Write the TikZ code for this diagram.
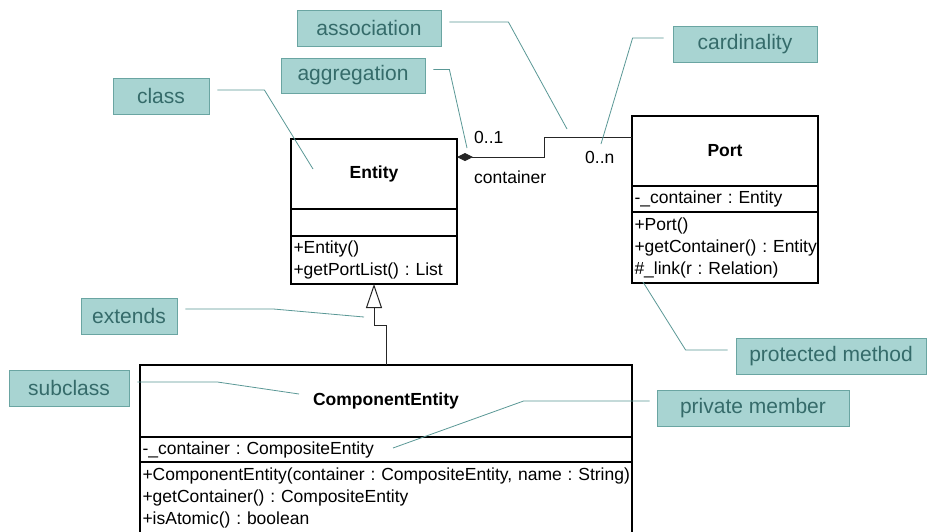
\documentclass[tikz,border=0pt]{standalone}
\usepackage{fontspec}
\setmainfont{Liberation Sans}
\usetikzlibrary{arrows.meta}
\definecolor{notefill}{HTML}{A8D4D2}
\definecolor{noteline}{HTML}{6AA5A2}
\definecolor{notetext}{HTML}{356B6A}
\definecolor{leadline}{HTML}{5A9896}
\tikzset{
  note/.style={draw=noteline, fill=notefill, text=notetext, line width=0.8pt,
    font=\fontsize{21}{25}\selectfont, inner sep=0pt, minimum height=36pt},
  lead/.style={draw=leadline, line width=0.8pt},
  cls/.style={draw=black, line width=1.2pt, anchor=north west, inner ysep=0pt,
    inner xsep=2.5pt, outer sep=0pt, font=\fontsize{17.5}{22}\selectfont,
    execute at begin node=\frenchspacing},
  clsname/.style={cls, font=\fontsize{17.5}{22}\selectfont\bfseries, align=center},
  clsbody/.style={cls, align=left},
  link/.style={draw=black!85, line width=1pt},
  mult/.style={font=\fontsize{17.5}{22}\selectfont, anchor=west, inner sep=0pt}
}
\begin{document}
\begin{tikzpicture}[x=1pt,y=-1pt]
\useasboundingbox (0,0) rectangle (927,531);
\clip (0,0) rectangle (927,531);
\fill[white] (0,0) rectangle (927,531);

% class Entity
\node[clsname, minimum width=166pt, minimum height=70pt] (entN) at (291,139) {Entity};
\node[clsbody, text width=161pt, minimum height=27pt] (entA) at (entN.south west) {};
\node[clsbody, text width=161pt, minimum height=48pt] (entM) at (entA.south west)
  {\mbox{+Entity()}\\\mbox{+getPortList() : List}};

% class Port
\node[clsname, minimum width=186pt, minimum height=70pt] (portN) at (632,116) {Port};
\node[clsbody, text width=181pt, minimum height=26pt] (portA) at (portN.south west)
  {\mbox{-\_container : Entity}};
\node[clsbody, text width=181pt, minimum height=71pt] (portM) at (portA.south west)
  {\mbox{+Port()}\\\mbox{+getContainer() : Entity}\\\mbox{\#\_link(r : Relation)}};

% class ComponentEntity
\node[clsname, minimum width=492pt, minimum height=72pt] (ceN) at (140,365) {ComponentEntity};
\node[clsbody, text width=487pt, minimum height=25pt] (ceA) at (ceN.south west)
  {\mbox{-\_container : CompositeEntity}};
\node[clsbody, text width=487pt, minimum height=72pt] (ceM) at (ceA.south west)
  {\mbox{+ComponentEntity(container : CompositeEntity, name : String)}\\
   \mbox{+getContainer() : CompositeEntity}\\\mbox{+isAtomic() : boolean}};

% aggregation Entity <>-- Port
\draw[link, {Diamond[length=16pt,width=8pt]}-]
  ([yshift=-18pt]entN.north east) -- ++(87,0) |- ([yshift=-21pt]portN.north west);
\node[mult] (m01) at (474,137) {0..1};
\node[mult] (mcont) at (474,177) {container};
\node[mult] (m0n) at (585,157) {0..n};

% generalization ComponentEntity --|> Entity
\draw[link, -{Triangle[open,length=24pt,width=16pt,fill=white]}]
  (ceN.north) -- ++(0,-40) -| (entM.south);

% callout labels
\node[note, minimum width=144pt] (assoc) at (369,28) {association};
\node[note, minimum width=144pt, minimum height=35pt] (aggr) at (353,75.5) {aggregation};
\node[note, minimum width=144pt] (card) at (745,44) {cardinality};
\node[note, minimum width=96pt] (clsl) at (161,96) {class};
\node[note, minimum width=96pt] (ext) at (129,316) {extends};
\node[note, minimum width=120pt] (sub) at (69,388) {subclass};
\node[note, minimum width=192pt] (priv) at (753,408) {private member};
\node[note, minimum width=190pt] (prot) at (831,356) {protected method};

% leader ends
\coordinate (tAssoc) at (567,129);
\coordinate (tAggr) at (467,148);
\coordinate (tCard) at (601,144);
\coordinate (tClass) at (313,169);
\coordinate (tExt) at (364,317);
\coordinate (tSub) at (299,394);
\coordinate (tPriv) at (393,448);
\coordinate (tProt) at (643,282);

% leader lines
\draw[lead] ([xshift=8pt,yshift=6pt]assoc.east) -- ++(59,0) -- (tAssoc);
\draw[lead] ([xshift=8pt,yshift=6pt]aggr.east) -- ++(16,0) -- (tAggr);
\draw[lead] ([xshift=-9pt,yshift=6pt]card.west) -- ++(-31,0) -- (tCard);
\draw[lead] ([xshift=8pt,yshift=6pt]clsl.east) -- ++(47,0) -- (tClass);
\draw[lead] ([xshift=8pt,yshift=7pt]ext.east) -- ++(88,0) -- (tExt);
\draw[lead] ([xshift=8pt,yshift=6pt]sub.east) -- ++(80,0) -- (tSub);
\draw[lead] ([xshift=-7pt,yshift=7pt]priv.west) -- ++(-126,0) -- (tPriv);
\draw[lead] ([xshift=-8pt,yshift=6pt]prot.west) -- ++(-42,0) -- (tProt);
\end{tikzpicture}
\end{document}
